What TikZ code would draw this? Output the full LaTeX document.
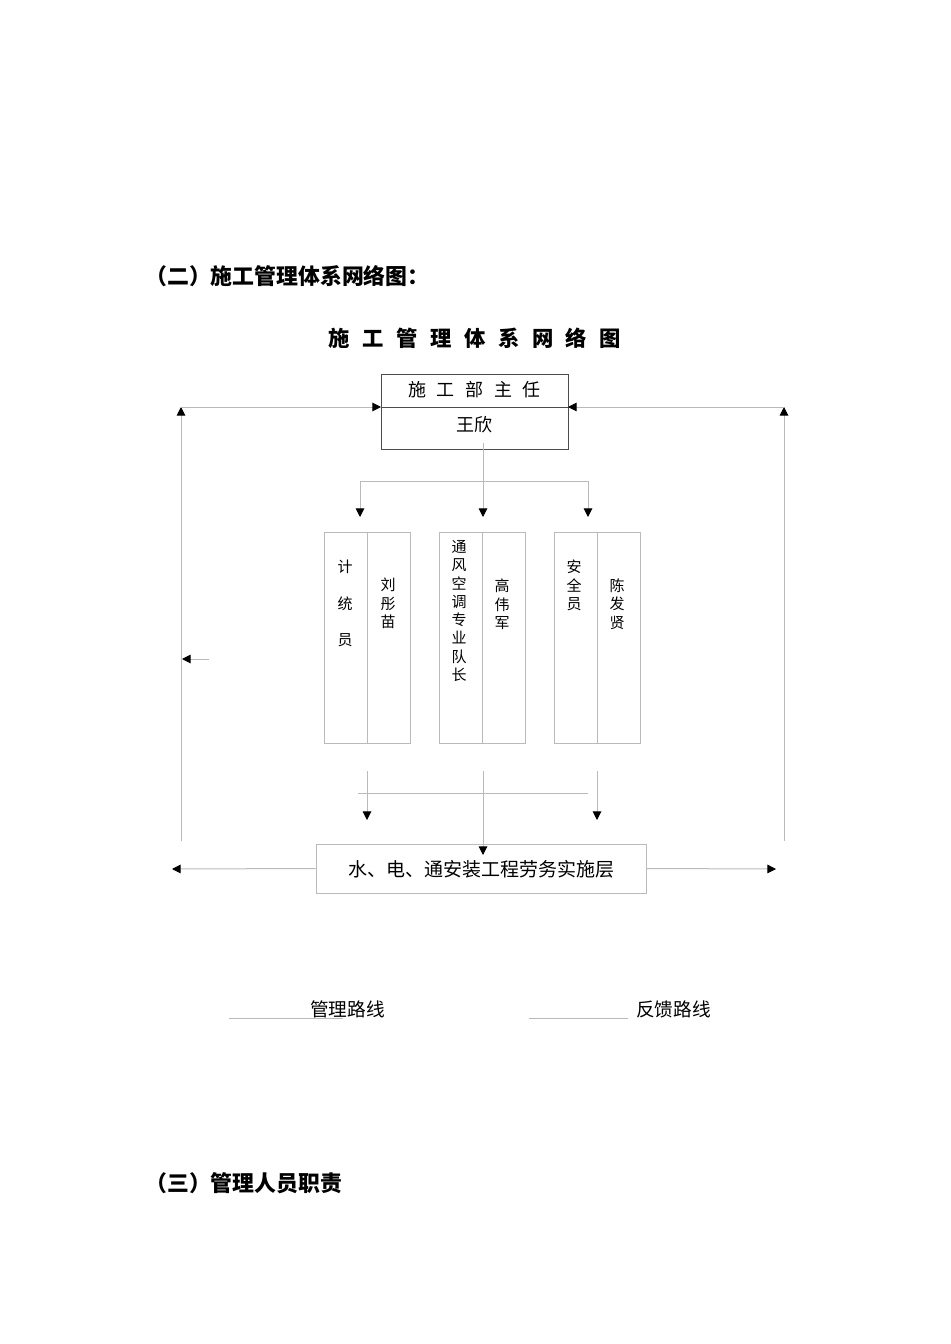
\documentclass[tikz,border=0pt]{standalone}
\usepackage{fontspec}
\setmainfont{Noto Sans CJK SC}
\usetikzlibrary{arrows.meta}
\begin{document}
\begin{tikzpicture}[x=0.75pt,y=-0.75pt,
  ln/.style={draw=black!27, line width=0.75pt},
  arr/.style={ln, -{Triangle[length=6.5pt,width=6.5pt,color=black]}},
  box/.style={draw=black!27, line width=0.75pt, inner sep=0pt},
  head/.style={font=\fontsize{16.4}{19}\selectfont\bfseries, inner sep=0pt},
  body/.style={font=\fontsize{13.5}{16}\selectfont, inner sep=0pt},
  vtext/.style={font=\fontsize{11.25}{13.7}\selectfont, align=center, inner sep=0pt},
]
\useasboundingbox (0,0) rectangle (950,1344);

% headings
\node[head, anchor=west] (h2) at (145,276) {（二）施工管理体系网络图：};
\node[font=\fontsize{16}{19}\selectfont\bfseries, inner sep=0pt] (title) at (475,338)
  {施\hspace{9.4pt}工\hspace{9.4pt}管\hspace{9.4pt}理\hspace{9.4pt}体\hspace{9.4pt}系\hspace{9.4pt}网\hspace{9.4pt}络\hspace{9.4pt}图};

% top box
\node[box, draw=black!70, minimum width=140.25pt, minimum height=56.25pt] (boss) at (474.5,411.5) {};
\coordinate (dl) at (381,407);
\coordinate (dr) at (568,407);
\draw[draw=black!70, line width=0.75pt] (dl) -- (dr);
\node[body] (bt1) at (474.5,390) {施\hspace{8pt}工\hspace{8pt}部\hspace{8pt}主\hspace{8pt}任};
\node[body] (bt2) at (474.5,425) {王欣};

% feedback loops
\coordinate (lt) at (181,407);
\coordinate (lb) at (181,841);
\coordinate (rt) at (784,407);
\coordinate (rb) at (784,841);
\draw[arr] (lb) -- (lt);
\draw[arr] (lt) -- (dl);
\draw[arr] (rb) -- (rt);
\draw[arr] (rt) -- (dr);
\coordinate (sa) at (209,659);
\coordinate (sb) at (182,659);
\draw[arr] (sa) -- (sb);

% distribution from boss
\coordinate (bs) at (483,443);
\coordinate (j) at (483,481);
\coordinate (jl) at (360,481);
\coordinate (jr) at (588,481);
\coordinate (al) at (360,517);
\coordinate (am) at (483,517);
\coordinate (ar) at (588,517);
\draw[ln] (bs) -- (j);
\draw[ln] (jl) -- (jr);
\draw[arr] (jl) -- (al);
\draw[arr] (j) -- (am);
\draw[arr] (jr) -- (ar);

% three columns
\node[box, minimum width=64.5pt, minimum height=158.25pt] (c1) at (367,637.5) {};
\node[box, minimum width=64.5pt, minimum height=158.25pt] (c2) at (482,637.5) {};
\node[box, minimum width=64.5pt, minimum height=158.25pt] (c3) at (597,637.5) {};
\draw[ln] (c1.north) -- (c1.south);
\draw[ln] (c2.north) -- (c2.south);
\draw[ln] (c3.north) -- (c3.south);

\node[vtext] (c1a) at (345,603.5) {计\\[13.7pt]统\\[13.7pt]员};
\node[vtext] (c1b) at (388,603.5) {刘\\彤\\苗};
\node[vtext] (c2a) at (459,611) {通\\风\\空\\调\\专\\业\\队\\长};
\node[vtext] (c2b) at (502,604.5) {高\\伟\\军};
\node[vtext] (c3a) at (574,585.5) {安\\全\\员};
\node[vtext] (c3b) at (617,604) {陈\\发\\贤};

% lower connectors
\coordinate (u1) at (367,771);
\coordinate (u2) at (483,771);
\coordinate (u3) at (597,771);
\coordinate (v1) at (367,820);
\coordinate (v2) at (483,855);
\coordinate (v3) at (597,820);
\coordinate (hl) at (358,793);
\coordinate (hr) at (588,793);
\draw[ln] (hl) -- (hr);
\draw[arr] (u1) -- (v1);
\draw[arr] (u3) -- (v3);

% bottom box
\node[box, minimum width=247.5pt, minimum height=36.75pt] (work) at (481,868.5) {};
\node[font=\fontsize{14.25}{17}\selectfont, inner sep=0pt] (worktext) at (481,869) {水、电、通安装工程劳务实施层};
\draw[arr] (u2) -- (v2);
\coordinate (wl) at (172,869);
\coordinate (wr) at (776,869);
\draw[arr] (work.west) -- (wl);
\draw[arr] (work.east) -- (wr);

% legend
\coordinate (l1a) at (229,1018);
\coordinate (l1b) at (343,1018);
\coordinate (l2a) at (529,1018);
\coordinate (l2b) at (628,1018);
\draw[ln] (l1a) -- (l1b);
\draw[ln] (l2a) -- (l2b);
\node[font=\fontsize{14}{17}\selectfont, inner sep=0pt, anchor=west] (leg1) at (310,1009) {管理路线};
\node[font=\fontsize{14}{17}\selectfont, inner sep=0pt, anchor=west] (leg2) at (636,1009) {反馈路线};

\node[head, anchor=west] (h3) at (145,1183) {（三）管理人员职责};
\end{tikzpicture}
\end{document}
